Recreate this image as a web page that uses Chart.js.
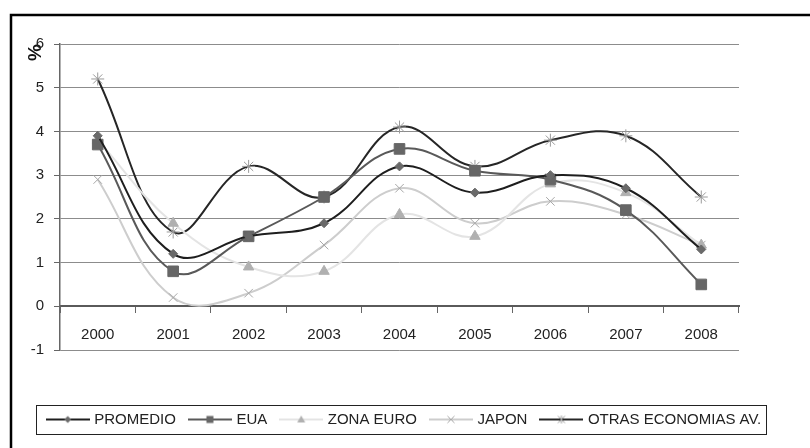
<!DOCTYPE html>
<html>
<head>
<meta charset="utf-8">
<script src="https://cdn.jsdelivr.net/npm/chart.js@4.4.0/dist/chart.umd.min.js"></script>
<style>
  html, body { margin: 0; padding: 0; background: #fff; }
  #contenedor { width: 810px; height: 448px; position: relative; }
</style>
</head>
<body>
<div id="contenedor"><canvas id="grafico"></canvas></div>
<script>
// datos (%)
const anios = ['2000', '2001', '2002', '2003', '2004', '2005', '2006', '2007', '2008'];
const promedio = [3.9, 1.2, 1.6, 1.9, 3.2, 2.6, 3.0, 2.7, 1.3];
const eua = [3.7, 0.8, 1.6, 2.5, 3.6, 3.1, 2.9, 2.2, 0.5];
const zonaEuro = [3.8, 1.9, 0.9, 0.8, 2.1, 1.6, 2.8, 2.6, 1.4];
const japon = [2.9, 0.2, 0.3, 1.4, 2.7, 1.9, 2.4, 2.1, 1.4];
const otras = [5.2, 1.7, 3.2, 2.5, 4.1, 3.2, 3.8, 3.9, 2.5];
const nombres = ['PROMEDIO', 'EUA', 'ZONA EURO', 'JAPON', 'OTRAS ECONOMIAS AV.'];
const ejeMin = -1, ejeMax = 6, paso = 1;

const fuente = "'Liberation Sans', Arial, sans-serif";

// icono de leyenda: linea con marcador al centro
function icono(colorLinea, marca, colorMarca) {
  const c = document.createElement('canvas');
  c.width = 44; c.height = 14;
  const g = c.getContext('2d');
  g.strokeStyle = colorLinea; g.lineWidth = 2;
  g.beginPath(); g.moveTo(0, 7); g.lineTo(44, 7); g.stroke();
  g.fillStyle = colorMarca; g.strokeStyle = colorMarca; g.lineWidth = 1;
  const x = 22, y = 7;
  g.beginPath();
  if (marca === 'rombo') {
    g.moveTo(x - 3.5, y); g.lineTo(x, y - 3.5); g.lineTo(x + 3.5, y); g.lineTo(x, y + 3.5); g.closePath(); g.fill();
  } else if (marca === 'cuadro') {
    g.fillRect(x - 3.5, y - 3.5, 7, 7);
  } else if (marca === 'triangulo') {
    g.moveTo(x, y - 4); g.lineTo(x + 4, y + 3); g.lineTo(x - 4, y + 3); g.closePath(); g.fill();
  } else if (marca === 'cruz') {
    g.moveTo(x - 3.5, y - 3.5); g.lineTo(x + 3.5, y + 3.5); g.moveTo(x + 3.5, y - 3.5); g.lineTo(x - 3.5, y + 3.5); g.stroke();
  } else {
    g.moveTo(x - 3.5, y - 3.5); g.lineTo(x + 3.5, y + 3.5); g.moveTo(x + 3.5, y - 3.5); g.lineTo(x - 3.5, y + 3.5);
    g.moveTo(x, y - 4); g.lineTo(x, y + 4); g.stroke();
  }
  return c;
}

const iconos = [
  icono('#1e1e1e', 'rombo', '#6a6a6a'),
  icono('#595959', 'cuadro', '#666'),
  icono('#e4e4e4', 'triangulo', '#b0b0b0'),
  icono('#cdcdcd', 'cruz', '#a8a8a8'),
  icono('#262626', 'estrella', '#9a9a9a')
];

// marco exterior y recuadro de la leyenda
const marco = {
  id: 'marco',
  beforeDraw(chart) {
    const ctx = chart.ctx;
    ctx.save();
    ctx.fillStyle = '#fff';
    ctx.fillRect(0, 0, chart.width, chart.height);
    ctx.restore();
  },
  afterDraw(chart) {
    const ctx = chart.ctx;
    ctx.save();
    ctx.strokeStyle = '#000';
    ctx.lineWidth = 2.5;
    ctx.strokeRect(11, 15, chart.width + 20, chart.height + 20);
    const cajas = chart.legend.legendHitBoxes;
    const izq = Math.min(...cajas.map(c => c.left)) - 13;
    const der = Math.max(...cajas.map(c => c.left + c.width)) + 4;
    const arr = Math.min(...cajas.map(c => c.top)) - 7;
    const aba = Math.max(...cajas.map(c => c.top + c.height)) + 7;
    ctx.lineWidth = 1;
    ctx.strokeStyle = '#222';
    ctx.strokeRect(Math.round(izq) + 0.5, Math.round(arr) + 0.5, Math.round(der - izq), Math.round(aba - arr));
    ctx.restore();
  }
};

function serie(nombre, datos, colorLinea, estilo, colorMarca, radio) {
  return {
    label: nombre,
    data: datos,
    borderColor: colorLinea,
    borderWidth: 2,
    backgroundColor: colorMarca,
    pointStyle: estilo,
    pointRadius: radio,
    pointBackgroundColor: colorMarca,
    pointBorderColor: colorMarca,
    pointBorderWidth: 1,
    tension: 0.4,
    fill: false
  };
}

new Chart(document.getElementById('grafico'), {
  type: 'line',
  data: {
    labels: anios,
    datasets: [
      serie(nombres[0], promedio, '#1e1e1e', 'rectRot', '#6a6a6a', 4.5),
      serie(nombres[1], eua, '#595959', 'rect', '#666', 7.5),
      serie(nombres[2], zonaEuro, '#e4e4e4', 'triangle', '#b0b0b0', 6),
      serie(nombres[3], japon, '#cdcdcd', 'crossRot', '#a8a8a8', 6),
      serie(nombres[4], otras, '#262626', 'star', '#9a9a9a', 6.5)
    ]
  },
  options: {
    responsive: true,
    maintainAspectRatio: false,
    animation: false,
    layout: { padding: { top: 44, left: 0, right: 0, bottom: 11 } },
    scales: {
      x: {
        type: 'category',
        offset: true,
        position: { y: 0 },
        grid: { offset: true, drawOnChartArea: false, drawTicks: true, tickLength: 6, color: '#666' },
        border: { color: '#5a5a5a', width: 2 },
        ticks: { color: '#222', padding: 14, font: { family: fuente, size: 15 }, maxRotation: 0 }
      },
      // eje vacio: solo reserva el hueco entre el area y la leyenda
      x2: {
        type: 'category',
        position: 'bottom',
        display: true,
        ticks: { display: false },
        grid: { display: false },
        border: { display: false },
        afterFit(escala) { escala.height = 47; }
      },
      y: {
        min: ejeMin,
        max: ejeMax,
        ticks: { stepSize: paso, color: '#222', padding: 10, font: { family: fuente, size: 15 } },
        grid: { color: '#8c8c8c', lineWidth: 1, tickLength: 6, tickColor: '#666' },
        border: { color: '#666', width: 1.5 },
        title: {
          display: true,
          text: '%',
          align: 'end',
          color: '#111',
          font: { family: fuente, size: 19, weight: 'bold' },
          padding: { top: 24, bottom: 0 }
        },
        afterFit(escala) { escala.width = 60; }
      },
      y2: {
        type: 'linear',
        position: 'right',
        display: true,
        ticks: { display: false },
        grid: { display: false },
        border: { display: false },
        afterFit(escala) { escala.width = 71; }
      }
    },
    plugins: {
      legend: {
        display: true,
        position: 'bottom',
        labels: {
          usePointStyle: true,
          pointStyleWidth: 38,
          padding: 15,
          color: '#222',
          font: { family: fuente, size: 15 },
          generateLabels(chart) {
            const base = Chart.defaults.plugins.legend.labels.generateLabels(chart);
            return base.map((item, i) => Object.assign(item, { pointStyle: iconos[i] }));
          }
        }
      },
      tooltip: { enabled: false }
    }
  },
  plugins: [marco]
});
</script>
</body>
</html>
